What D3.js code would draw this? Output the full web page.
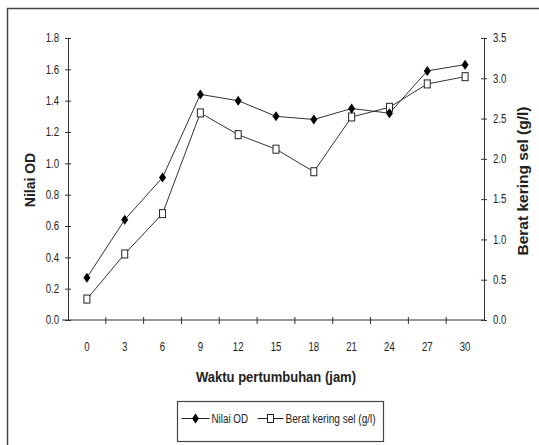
<!DOCTYPE html>
<html>
<head>
<meta charset="utf-8">
<script src="https://cdn.jsdelivr.net/npm/d3@7"></script>
<style>
  body { margin: 0; background: #fff; }
  text { font-family: "Liberation Sans", Arial, sans-serif; fill: #222; }
</style>
</head>
<body>
<svg id="chart" width="539" height="445"></svg>
<script>
// data
var jam = [0, 3, 6, 9, 12, 15, 18, 21, 24, 27, 30];
var nilaiOD = [0.27, 0.64, 0.91, 1.44, 1.40, 1.30, 1.28, 1.35, 1.32, 1.59, 1.63];
var beratKering = [0.26, 0.82, 1.32, 2.57, 2.30, 2.12, 1.84, 2.52, 2.64, 2.93, 3.02];
var odTicks = [0, 0.2, 0.4, 0.6, 0.8, 1.0, 1.2, 1.4, 1.6, 1.8];
var beratTicks = [0, 0.5, 1.0, 1.5, 2.0, 2.5, 3.0, 3.5];

var svg = d3.select("#chart");
var margin = { top: 38, right: 55, bottom: 125, left: 68 },
    width = 539 - margin.left - margin.right,
    height = 445 - margin.top - margin.bottom;

// squeeze text horizontally, the original uses a narrow font
function condense(sel, k) {
    sel.each(function () {
        var w = this.getComputedTextLength();
        d3.select(this).attr("textLength", w * k).attr("lengthAdjust", "spacingAndGlyphs");
    });
}

// outer frame (left and top edges visible)
svg.append("path")
    .attr("d", "M7.5,445 V8.5 H539")
    .attr("fill", "none")
    .attr("stroke", "#444")
    .attr("stroke-width", 1.5);

var g = svg.append("g")
    .attr("transform", "translate(" + margin.left + "," + margin.top + ")");

var xScale = d3.scaleBand()
    .domain(jam)
    .range([0, width]);

var yLeft = d3.scaleLinear().domain([0, 1.8]).range([height, 0]);
var yRight = d3.scaleLinear().domain([0, 3.5]).range([height, 0]);

function styleAxis(sel) {
    sel.attr("font-family", null).attr("font-size", null);
    sel.select(".domain").attr("stroke", "#333");
    sel.selectAll(".tick line").attr("stroke", "#333");
    sel.selectAll(".tick text")
        .style("font-size", "12px")
        .attr("fill", "#222")
        .call(condense, 0.8);
}

// left axis
g.append("g")
    .call(d3.axisLeft(yLeft).tickValues(odTicks).tickFormat(d3.format(".1f"))
        .tickSize(3).tickSizeOuter(0).tickPadding(6))
    .call(styleAxis)
    .call(function (a) { a.selectAll(".tick line").attr("x2", 3).attr("x1", -3); });

// right axis
g.append("g")
    .attr("transform", "translate(" + width + ",0)")
    .call(d3.axisRight(yRight).tickValues(beratTicks).tickFormat(d3.format(".1f"))
        .tickSize(3).tickSizeOuter(0).tickPadding(6))
    .call(styleAxis)
    .call(function (a) { a.selectAll(".tick line").attr("x1", -3).attr("x2", 3); });

// bottom axis: ticks between categories
var xAxis = g.append("g")
    .attr("transform", "translate(0," + height + ")");
xAxis.append("line")
    .attr("x1", -6).attr("x2", width)
    .attr("stroke", "#333");
xAxis.selectAll(".xtick")
    .data(jam.slice(1))
    .enter().append("line")
    .attr("x1", function (d) { return xScale(d); })
    .attr("x2", function (d) { return xScale(d); })
    .attr("y1", -3).attr("y2", 4)
    .attr("stroke", "#333");
xAxis.selectAll(".xlabel")
    .data(jam)
    .enter().append("text")
    .attr("x", function (d) { return xScale(d) + xScale.bandwidth() / 2; })
    .attr("y", 31)
    .attr("text-anchor", "middle")
    .style("font-size", "12px")
    .text(function (d) { return d; })
    .call(condense, 0.8);

// axis titles
g.append("text")
    .attr("x", width / 2)
    .attr("y", height + 62)
    .attr("text-anchor", "middle")
    .style("font-size", "14px")
    .style("font-weight", "bold")
    .text("Waktu pertumbuhan (jam)")
    .call(condense, 0.93);

g.append("text")
    .attr("transform", "translate(-33," + (height / 2 + 1) + ") rotate(-90)")
    .attr("text-anchor", "middle")
    .style("font-size", "14px")
    .style("font-weight", "bold")
    .text("Nilai OD");

g.append("text")
    .attr("transform", "translate(" + (width + 44) + "," + (height / 2 + 2) + ") rotate(-90)")
    .attr("text-anchor", "middle")
    .style("font-size", "15.5px")
    .style("font-weight", "bold")
    .text("Berat kering sel (g/l)");

var cx = function (d, i) { return xScale(jam[i]) + xScale.bandwidth() / 2; };
var diamond = "M0,-5 L3.5,0 L0,5 L-3.5,0 Z";

// Berat kering sel line (right axis)
g.append("path")
    .datum(beratKering)
    .attr("fill", "none")
    .attr("stroke", "#333")
    .attr("stroke-width", 1)
    .attr("d", d3.line().x(cx).y(function (d) { return yRight(d); }));

// Nilai OD line (left axis)
g.append("path")
    .datum(nilaiOD)
    .attr("fill", "none")
    .attr("stroke", "#333")
    .attr("stroke-width", 1)
    .attr("d", d3.line().x(cx).y(function (d) { return yLeft(d); }));

g.selectAll(".sq")
    .data(beratKering)
    .enter().append("rect")
    .attr("x", function (d, i) { return cx(d, i) - 3; })
    .attr("y", function (d) { return yRight(d) - 4; })
    .attr("width", 6).attr("height", 8)
    .attr("fill", "#fff")
    .attr("stroke", "#222")
    .attr("stroke-width", 1);

g.selectAll(".dm")
    .data(nilaiOD)
    .enter().append("path")
    .attr("d", diamond)
    .attr("transform", function (d, i) { return "translate(" + cx(d, i) + "," + yLeft(d) + ")"; })
    .attr("fill", "#000");

// legend
var legend = svg.append("g").attr("transform", "translate(177.5,401.5)");
legend.append("rect")
    .attr("width", 206).attr("height", 40)
    .attr("fill", "#fff")
    .attr("stroke", "#444")
    .attr("stroke-width", 1.2);
var ly = 17;
legend.append("line").attr("x1", 4).attr("x2", 32).attr("y1", ly).attr("y2", ly).attr("stroke", "#222");
legend.append("path").attr("d", diamond).attr("transform", "translate(18," + ly + ")").attr("fill", "#000");
legend.append("text").attr("x", 34).attr("y", ly + 4).style("font-size", "12px").text("Nilai OD").call(condense, 0.82);
legend.append("line").attr("x1", 80).attr("x2", 106).attr("y1", ly).attr("y2", ly).attr("stroke", "#222");
legend.append("rect").attr("x", 90).attr("y", ly - 4).attr("width", 6).attr("height", 8)
    .attr("fill", "#fff").attr("stroke", "#222");
legend.append("text").attr("x", 108).attr("y", ly + 4).style("font-size", "12px").text("Berat kering sel (g/l)").call(condense, 0.84);
</script>
</body>
</html>
